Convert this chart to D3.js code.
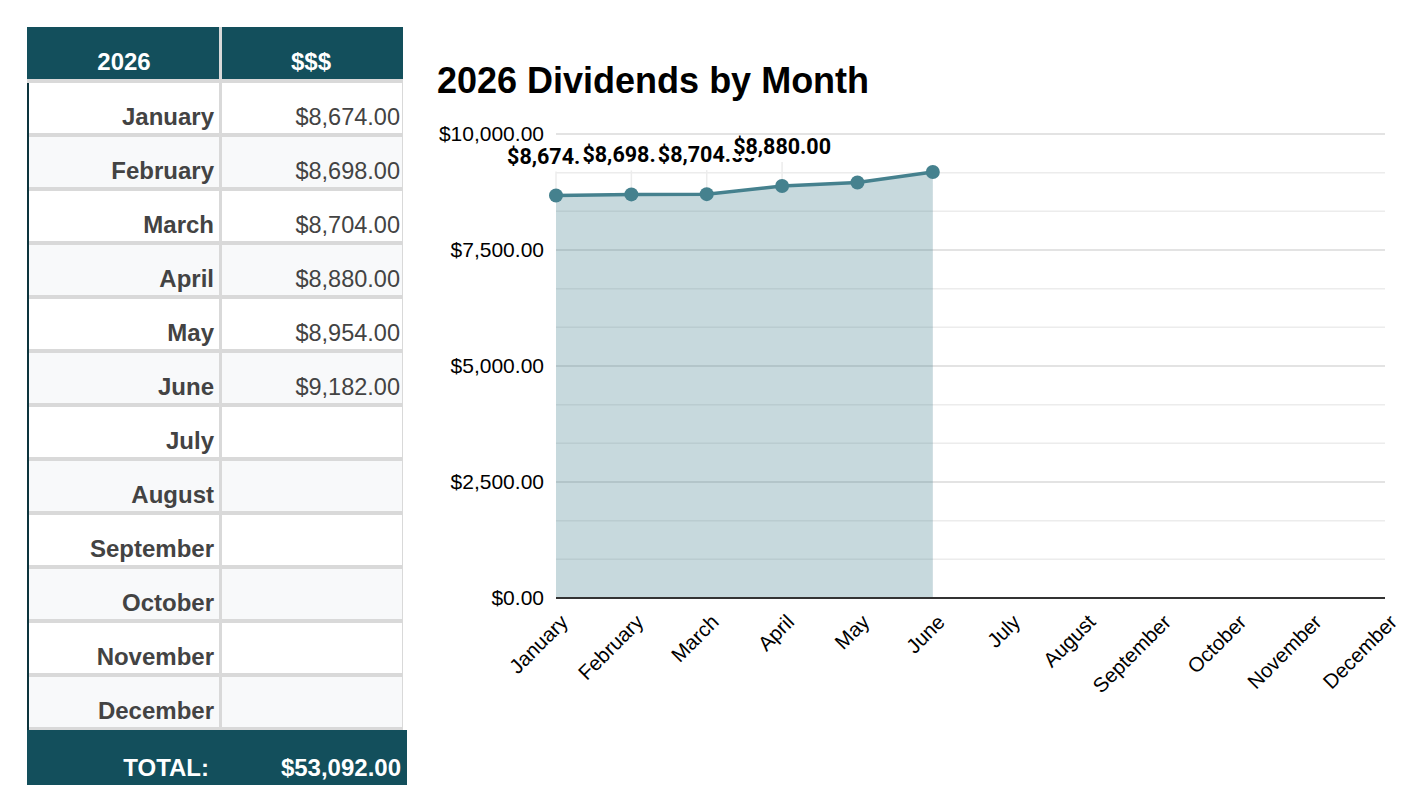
<!DOCTYPE html>
<html>
<head>
<meta charset="utf-8">
<script src="https://cdn.jsdelivr.net/npm/d3@7"></script>
<style>
  body { margin: 0; background: #fff; }
  svg { display: block; }
</style>
</head>
<body>
<svg id="page" width="1420" height="808"></svg>
<script>
// Data
const months = ["January", "February", "March", "April", "May", "June",
  "July", "August", "September", "October", "November", "December"];
const dividends = [8674, 8698, 8704, 8880, 8954, 9182, null, null, null, null, null, null];
const tableHeaders = ["2026", "$$$"];
const totalLabel = "TOTAL:";
const yTicks = [0, 2500, 5000, 7500, 10000];
const chartTitle = "2026 Dividends by Month";
// labels Google managed to fit before they started colliding
const labelledMonths = ["January", "February", "March", "April"];

const teal = "#134f5c";
const lineColor = "#45818e";
const money = d3.format("$,.2f");

const svg = d3.select("#page");

// ---------- table ----------
const table = { left: 27, split: 219, gap: 3, right: 403, headTop: 27, headH: 52, rowH: 50, rowGap: 4 };
const firstRowTop = table.headTop + table.headH + table.rowGap;
const rowTop = i => firstRowTop + i * (table.rowH + table.rowGap);
const cellFont = "'Liberation Sans', Arial, sans-serif";

const tg = svg.append("g").attr("class", "table");

// grid background (shows through as separators)
tg.append("rect")
  .attr("x", table.left).attr("y", table.headTop)
  .attr("width", table.right - table.left)
  .attr("height", rowTop(months.length) - table.headTop)
  .attr("fill", "#d9d9d9");

// header
tg.append("rect").attr("x", table.left).attr("y", table.headTop)
  .attr("width", table.split - table.left).attr("height", table.headH).attr("fill", teal);
tg.append("rect").attr("x", table.split + table.gap).attr("y", table.headTop)
  .attr("width", table.right - table.split - table.gap).attr("height", table.headH).attr("fill", teal);

tg.selectAll(".head-text").data(tableHeaders).join("text")
  .attr("class", "head-text")
  .attr("x", (d, i) => i === 0 ? (table.left + table.split) / 2 + 1 : (table.split + table.right) / 2)
  .attr("y", table.headTop + 43)
  .attr("text-anchor", "middle")
  .attr("fill", "#fff")
  .style("font", `bold 24px ${cellFont}`)
  .text(d => d);

const rows = tg.selectAll(".row").data(months).join("g")
  .attr("class", "row")
  .attr("transform", (d, i) => `translate(0,${rowTop(i)})`);

rows.append("rect")
  .attr("x", table.left).attr("width", table.split - table.left).attr("height", table.rowH)
  .attr("fill", (d, i) => i % 2 ? "#f8f9fa" : "#fff");
rows.append("rect")
  .attr("x", table.split + table.gap).attr("width", table.right - table.split - table.gap - 1)
  .attr("height", table.rowH)
  .attr("fill", (d, i) => i % 2 ? "#f8f9fa" : "#fff");
rows.append("rect")
  .attr("x", table.left).attr("width", 2).attr("height", table.rowH + table.rowGap)
  .attr("fill", "#0c343d");

rows.append("text")
  .attr("x", table.split - 5).attr("y", table.rowH - 8)
  .attr("text-anchor", "end").attr("fill", "#434343")
  .style("font", `bold 24px ${cellFont}`)
  .text(d => d);

rows.append("text")
  .attr("x", table.right - 3).attr("y", table.rowH - 8)
  .attr("text-anchor", "end").attr("fill", "#434343")
  .style("font", `23.5px ${cellFont}`)
  .text((d, i) => dividends[i] == null ? "" : money(dividends[i]));

// total row
const totalTop = rowTop(months.length) - 1;
tg.append("rect").attr("x", table.left).attr("y", totalTop)
  .attr("width", 380).attr("height", 55).attr("fill", teal);
tg.append("text").attr("x", 209).attr("y", totalTop + 46)
  .attr("text-anchor", "end").attr("fill", "#fff")
  .style("font", `bold 24px ${cellFont}`)
  .text(totalLabel);
tg.append("text").attr("x", 401).attr("y", totalTop + 46)
  .attr("text-anchor", "end").attr("fill", "#fff")
  .style("font", `bold 24px ${cellFont}`)
  .text(money(d3.sum(dividends)));

// ---------- chart ----------
const plot = { left: 556, right: 1385, top: 134, bottom: 598 };

const x = d3.scalePoint().domain(months).range([plot.left, plot.right]);
const y = d3.scaleLinear().domain([0, 10000]).range([plot.bottom, plot.top]);

svg.append("text")
  .attr("x", 437).attr("y", 93)
  .attr("fill", "#000")
  .style("font", "bold 36px 'Liberation Sans', Arial, sans-serif")
  .text(chartTitle);

// minor gridlines every third of a major step
const step = yTicks[1] - yTicks[0];
const minorTicks = d3.range(yTicks[0], yTicks[yTicks.length - 1], step / 3)
  .filter(v => Math.abs(v % step) > 1e-6);

const grid = svg.append("g").attr("class", "grid");
grid.selectAll(".minor").data(minorTicks).join("line")
  .attr("x1", plot.left).attr("x2", plot.right)
  .attr("y1", d => y(d)).attr("y2", d => y(d))
  .attr("stroke", "#ececec").attr("stroke-width", 1.5);
grid.selectAll(".major").data(yTicks.filter(v => v > 0)).join("line")
  .attr("x1", plot.left).attr("x2", plot.right)
  .attr("y1", d => y(d)).attr("y2", d => y(d))
  .attr("stroke", "#dadada").attr("stroke-width", 1.5);

const series = months.map((m, i) => ({ month: m, value: dividends[i] }))
  .filter(d => d.value != null);
const labelled = series.filter(d => labelledMonths.includes(d.month));

// faint leader lines under the data labels
svg.selectAll(".leader").data(labelled).join("line")
  .attr("x1", d => x(d.month)).attr("x2", d => x(d.month))
  .attr("y1", d => y(d.value) - 24).attr("y2", d => y(d.value))
  .attr("stroke", "#ececec").attr("stroke-width", 1.5);

svg.append("path")
  .datum(series)
  .attr("fill", lineColor).attr("fill-opacity", 0.3)
  .attr("d", d3.area().x(d => x(d.month)).y0(y(0)).y1(d => y(d.value)));

// baseline
svg.append("line")
  .attr("x1", plot.left).attr("x2", plot.right)
  .attr("y1", y(0)).attr("y2", y(0))
  .attr("stroke", "#333").attr("stroke-width", 2);

svg.append("path")
  .datum(series)
  .attr("fill", "none").attr("stroke", lineColor).attr("stroke-width", 3.5)
  .attr("d", d3.line().x(d => x(d.month)).y(d => y(d.value)));

svg.selectAll(".pt").data(series).join("circle")
  .attr("class", "pt")
  .attr("cx", d => x(d.month)).attr("cy", d => y(d.value))
  .attr("r", 7).attr("fill", lineColor);

// y axis
svg.append("g")
  .attr("transform", `translate(${plot.left},0)`)
  .call(d3.axisLeft(y).tickValues(yTicks).tickFormat(money).tickSize(0).tickPadding(12))
  .call(g => g.select(".domain").remove())
  .call(g => g.selectAll("text")
    .attr("fill", "#000")
    .style("font", "21px 'Liberation Sans', Arial, sans-serif"));

// x axis labels, rotated
svg.append("g")
  .selectAll("text").data(months).join("text")
  .attr("transform", d => `translate(${x(d) + 8},${plot.bottom + 20}) rotate(-45)`)
  .attr("text-anchor", "end")
  .attr("dominant-baseline", "central")
  .attr("fill", "#000")
  .style("font", "20.5px 'Liberation Sans', Arial, sans-serif")
  .text(d => d);

// data labels, later ones painted over earlier ones
const labels = svg.append("g").selectAll("g")
  .data(labelled)
  .join("g")
  .attr("transform", d => `translate(${x(d.month)},${y(d.value) - 32})`);

labels.append("rect")
  .attr("x", -51).attr("y", -17).attr("width", 100).attr("height", 21)
  .attr("fill", "#fff");
labels.append("text")
  .attr("text-anchor", "middle")
  .attr("fill", "#000")
  .style("font", "bold 21.5px Roboto, 'Liberation Sans', sans-serif")
  .text(d => money(d.value));
</script>
</body>
</html>
